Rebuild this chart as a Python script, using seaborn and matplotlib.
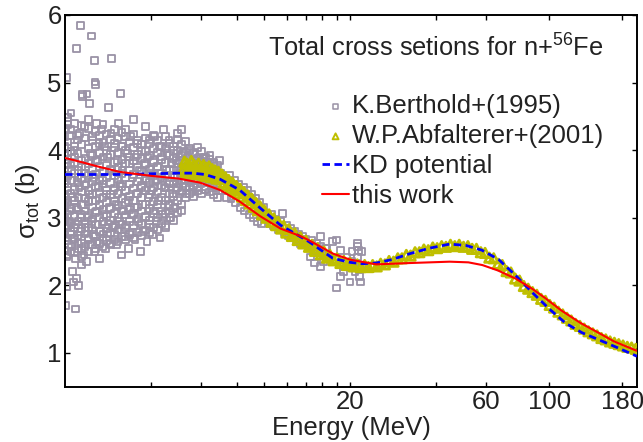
import matplotlib
matplotlib.use('Agg')
import matplotlib.pyplot as plt
from matplotlib.ticker import NullLocator
import pandas as pd
import seaborn as sns

# ---- K.Berthold+(1995) data: scattered points ----
berthold_E = [
    2.01, 2.02, 2.03, 2.01, 2.02, 2.00, 2.01, 2.03, 2.02, 2.00, 2.01, 2.04, 2.02, 2.05, 2.06, 2.07, 2.05, 2.08, 2.09, 2.08,
    2.10, 2.10, 2.11, 2.12, 2.13, 2.14, 2.15, 2.15, 2.16, 2.17, 2.17, 2.18, 2.19, 2.19, 2.20, 2.21, 2.22, 2.22, 2.23, 2.24,
    2.25, 2.26, 2.26, 2.27, 2.28, 2.29, 2.30, 2.29,
    2.31, 2.32, 2.33, 2.34, 2.35, 2.36, 2.37, 2.38, 2.39, 2.40, 2.41, 2.42, 2.43, 2.44, 2.45, 2.46, 2.47, 2.48, 2.49, 2.50,
    2.51, 2.52, 2.53, 2.54, 2.55, 2.56, 2.57, 2.58, 2.59, 2.60, 2.61, 2.62, 2.63, 2.64, 2.65, 2.66, 2.68, 2.70, 2.72, 2.74,
    2.76, 2.78, 2.80, 2.82, 2.84, 2.85, 2.86, 2.88, 2.90, 2.91, 2.92, 2.94, 2.96, 2.98, 2.99,
    3.02, 3.04, 3.06, 3.08, 3.10, 3.12, 3.14, 3.15, 3.17, 3.19, 3.21, 3.23, 3.25, 3.27, 3.29, 3.31, 3.33, 3.35, 3.37, 3.40,
    3.42, 3.44, 3.46, 3.48, 3.50, 3.52, 3.55, 3.57, 3.60, 3.62, 3.64, 3.67, 3.70, 3.72, 3.74, 3.77, 3.80, 3.82, 3.84, 3.86,
    3.88, 3.90, 3.92, 3.95, 3.97, 3.99,
    4.02, 4.05, 4.08, 4.10, 4.13, 4.16, 4.19, 4.22, 4.25, 4.28, 4.31, 4.34, 4.37, 4.40, 4.43, 4.46, 4.50, 4.53, 4.56, 4.60,
    4.63, 4.66, 4.70, 4.73, 4.76, 4.80, 4.83, 4.86, 4.90, 4.93, 4.96, 4.99,
    5.02, 5.05, 5.08, 5.12, 5.12, 5.15, 5.18, 5.22, 5.26, 5.30, 5.33, 5.37, 5.41, 5.45, 5.49, 5.53, 5.57, 5.61, 5.65, 5.70,
    5.74, 5.78, 5.83, 5.88, 5.93, 5.98, 6.03, 6.08, 6.14, 6.20, 6.26, 6.32, 6.38, 6.45, 6.52, 6.59, 6.66, 6.74, 6.82, 6.90,
    6.97,
    7.05, 7.15, 7.25, 7.35, 7.45, 7.55, 7.65, 7.75, 7.85, 7.95, 8.05, 8.15, 8.25, 8.35, 8.45, 8.55, 8.65, 8.75, 8.85, 8.95,
    9.05, 9.15, 9.25, 9.35, 9.45, 9.55, 9.65, 9.75, 9.85, 9.95,
    10.2, 10.4, 10.6, 10.8, 11.0, 11.2, 11.4, 11.6, 11.8, 12.0, 12.2, 12.4, 12.6, 12.8, 13.0, 13.2, 13.4, 13.6, 13.8, 14.0,
    14.3, 14.6, 14.9, 15.2, 15.5, 15.8, 16.1, 16.4, 16.7,
    15.7, 17.4, 17.9, 21.2, 21.4, 20.3, 17.9, 18.5, 20.0, 21.7, 21.6, 20.8, 18.9, 17.0, 16.1, 14.5, 15.0, 21.3, 21.9, 19.5,
    18.5, 16.6, 20.3, 21.2, 15.7, 19.0, 22.0, 20.6,
]
berthold_sigma = [
    1.70, 1.98, 2.42, 2.70, 2.85, 3.00, 3.25, 3.55, 3.80, 4.05, 4.30, 4.42, 5.07, 3.40, 2.60, 2.95, 4.48, 3.10, 2.75, 4.22,
    4.55, 2.50, 3.70, 2.20, 3.30, 2.05, 2.68, 4.00, 3.90, 1.65, 2.90, 2.40, 5.50, 3.15, 2.10, 4.15, 2.62, 3.60, 2.00, 3.45,
    4.25, 5.85, 2.80, 3.05, 2.30, 3.85, 4.80, 2.55,
    4.82, 3.20, 2.45, 4.35, 2.85, 3.75, 3.50, 2.35, 4.83, 3.00, 2.70, 4.45, 4.69, 3.35, 2.60, 3.95, 5.69, 2.95, 4.20, 3.25,
    2.75, 3.60, 5.33, 2.50, 5.01, 4.97, 3.10, 4.40, 2.65, 3.85, 2.90, 3.45, 4.10, 2.40, 3.20, 2.80, 4.30, 3.55, 2.70, 3.05,
    4.05, 2.55, 3.35, 3.90, 2.90, 4.63, 3.15, 2.62, 4.25, 5.36, 3.70, 2.85, 3.40, 2.75, 4.10,
    3.20, 2.60, 3.85, 4.40, 2.95, 3.50, 4.84, 2.45, 3.70, 4.05, 3.10, 2.72, 4.30, 3.40, 2.88, 3.95, 3.25, 2.55, 3.80, 4.20,
    3.05, 2.78, 3.60, 4.45, 3.15, 2.68, 3.90, 3.35, 4.10, 2.95, 3.70, 2.50, 3.45, 4.00, 3.20, 2.80, 3.80, 4.35, 3.00, 3.55,
    2.65, 3.90, 3.30, 4.15, 2.90, 3.65,
    3.40, 2.75, 3.85, 3.10, 4.20, 3.55, 2.95, 3.75, 3.25, 4.05, 2.70, 3.60, 3.90, 3.05, 4.30, 3.45, 2.85, 3.70, 3.95, 3.20,
    4.15, 3.50, 3.00, 3.80, 3.35, 4.00, 3.60, 3.15, 3.85, 3.45, 4.25, 3.70,
    3.50, 3.85, 3.65, 3.11, 4.31, 3.40, 3.95, 3.75, 3.55, 4.13, 3.35, 3.90, 3.70, 3.45, 4.00, 3.60, 3.80, 3.38, 3.95, 3.55,
    3.72, 3.85, 3.45, 3.65, 3.90, 3.50, 3.78, 3.60, 3.88, 3.42, 3.70, 3.82, 3.55, 3.92, 3.65, 3.48, 3.80, 3.60, 3.72, 3.40,
    3.85,
    3.65, 3.40, 3.58, 3.30, 3.50, 3.62, 3.28, 3.45, 3.55, 3.22, 3.40, 3.50, 3.15, 3.35, 3.45, 3.10, 3.30, 3.40, 3.05, 3.25,
    3.35, 3.00, 3.20, 3.28, 2.95, 3.12, 3.22, 2.92, 3.05, 3.15,
    3.02, 2.92, 3.05, 2.88, 2.98, 2.82, 2.95, 3.06, 2.78, 2.88, 2.74, 2.84, 2.70, 2.80, 2.66, 2.76, 2.62, 2.72, 2.60, 2.68,
    2.56, 2.66, 2.52, 2.62, 2.48, 2.58, 2.45, 2.55, 2.42,
    2.72, 2.65, 2.67, 2.57, 2.52, 2.50, 1.96, 2.13, 2.05, 2.05, 2.13, 2.20, 2.28, 2.42, 2.35, 2.42, 2.33, 2.42, 2.28, 2.42,
    2.52, 2.55, 2.35, 2.62, 2.28, 2.20, 2.50, 2.30,
]

# ---- K.Berthold+(1995): dense low-energy columns ----
berthold_col_E = [2.00, 2.05, 2.10, 2.16, 2.22, 2.28, 2.35, 2.42, 2.49, 2.56, 2.64, 2.72, 2.80, 2.89, 2.98, 3.07, 3.17,
                  3.27, 3.37, 3.48, 3.59, 3.71, 3.83, 3.95, 4.08, 4.21, 4.35, 4.49, 4.64, 4.79, 4.95, 5.11, 5.28, 5.46,
                  5.64, 5.83, 6.02, 6.22, 6.43, 6.65, 6.87]
berthold_col_sigma = [
    [2.52, 2.78, 2.98, 3.18, 3.32, 3.50, 3.68, 3.92, 4.20],
    [2.45, 2.66, 2.88, 3.05, 3.22, 3.45, 3.62, 3.86, 4.12, 4.38],
    [2.58, 2.80, 2.92, 3.14, 3.36, 3.55, 3.78, 3.98, 4.30],
    [2.48, 2.70, 2.86, 3.02, 3.25, 3.42, 3.65, 3.82, 4.05, 4.40],
    [2.55, 2.74, 2.95, 3.12, 3.30, 3.52, 3.70, 3.95, 4.22],
    [2.42, 2.62, 2.84, 3.00, 3.20, 3.38, 3.58, 3.76, 4.08, 4.36],
    [2.58, 2.76, 2.92, 3.10, 3.28, 3.48, 3.66, 3.88, 4.18],
    [2.50, 2.68, 2.86, 3.04, 3.24, 3.40, 3.62, 3.80, 4.02, 4.32],
    [2.60, 2.82, 2.98, 3.16, 3.34, 3.54, 3.72, 3.92, 4.14],
    [2.55, 2.72, 2.90, 3.08, 3.26, 3.46, 3.64, 3.84, 4.06, 4.28],
    [2.62, 2.80, 3.00, 3.18, 3.38, 3.56, 3.76, 3.96, 4.22],
    [2.58, 2.76, 2.94, 3.12, 3.30, 3.50, 3.68, 3.90, 4.12, 4.38],
    [2.66, 2.84, 3.02, 3.22, 3.40, 3.60, 3.78, 4.00, 4.24],
    [2.60, 2.78, 2.96, 3.14, 3.34, 3.52, 3.72, 3.94, 4.16],
    [2.68, 2.88, 3.06, 3.24, 3.44, 3.62, 3.82, 4.04, 4.30],
    [2.64, 2.82, 3.00, 3.18, 3.36, 3.56, 3.74, 3.96, 4.18],
    [2.72, 2.90, 3.10, 3.28, 3.46, 3.66, 3.86, 4.06, 4.26],
    [2.68, 2.86, 3.04, 3.22, 3.40, 3.60, 3.80, 4.00, 4.20],
    [2.75, 2.94, 3.12, 3.32, 3.50, 3.70, 3.90, 4.12],
    [2.70, 2.88, 3.06, 3.26, 3.44, 3.64, 3.84, 4.04, 4.24],
    [2.78, 2.98, 3.16, 3.36, 3.54, 3.74, 3.94, 4.14],
    [2.74, 2.92, 3.10, 3.30, 3.48, 3.68, 3.88, 4.08],
    [2.82, 3.02, 3.20, 3.40, 3.58, 3.78, 3.98, 4.18],
    [2.78, 2.96, 3.14, 3.34, 3.52, 3.72, 3.92, 4.10],
    [2.86, 3.06, 3.24, 3.44, 3.62, 3.82, 4.02, 4.22],
    [2.82, 3.00, 3.20, 3.38, 3.56, 3.76, 3.96, 4.14],
    [2.92, 3.10, 3.30, 3.48, 3.66, 3.86, 4.06],
    [2.88, 3.06, 3.26, 3.44, 3.62, 3.82, 4.02, 4.20],
    [3.00, 3.18, 3.36, 3.54, 3.72, 3.92, 4.10],
    [2.96, 3.14, 3.32, 3.50, 3.70, 3.88, 4.06],
    [3.08, 3.26, 3.44, 3.62, 3.80, 4.00, 4.16],
    [3.20, 3.38, 3.56, 3.74, 3.92, 4.08],
    [3.30, 3.46, 3.62, 3.80, 3.96],
    [3.36, 3.52, 3.68, 3.84, 4.02],
    [3.32, 3.48, 3.64, 3.80, 3.96],
    [3.40, 3.56, 3.72, 3.88, 4.04],
    [3.36, 3.52, 3.68, 3.84, 3.98],
    [3.42, 3.58, 3.74, 3.90],
    [3.38, 3.54, 3.70, 3.86],
    [3.34, 3.50, 3.66, 3.82],
    [3.30, 3.46, 3.62, 3.78],
]

# ---- W.P.Abfalterer+(2001) data ----
abf_E = [
    5.20, 5.25, 5.30, 5.35, 5.40, 5.45, 5.50, 5.55, 5.60, 5.65, 5.70, 5.76, 5.82, 5.88, 5.94, 6.00, 6.06, 6.12, 6.18, 6.25,
    6.32, 6.40, 6.48, 6.56, 6.64, 6.72, 6.80, 6.90, 7.00, 7.10, 7.20, 7.30, 7.40, 7.50, 7.62, 7.74, 7.86, 7.98, 8.10, 8.22,
    8.35, 8.48, 8.62, 8.76, 8.90, 9.05, 9.20, 9.35, 9.50, 9.66, 9.82, 10.0, 10.2, 10.4, 10.6, 10.8, 11.0, 11.2, 11.45, 11.7,
    11.95, 12.2, 12.5, 12.8, 13.1, 13.4, 13.7, 14.0, 14.35, 14.7, 15.05, 15.4, 15.8, 16.2, 16.6, 17.0, 17.5, 18.0, 18.5, 19.0,
    19.5, 20.0, 20.6, 21.2, 21.8, 22.5, 23.2, 24.0, 24.8, 25.6, 26.5, 27.4, 28.4, 29.4, 30.4, 31.5, 32.6, 33.8, 35.0, 36.3,
    37.6, 39.0, 40.4, 41.9, 43.4, 45.0, 46.6, 48.3, 50.0, 51.8, 53.6, 55.5, 57.5, 59.5, 61.6, 63.8, 66.0, 68.4, 70.8, 73.3,
    75.9, 78.6, 81.4, 84.3, 87.3, 90.4, 93.6, 96.9, 100.3, 103.9, 107.6, 111.4, 115.3, 119.4, 123.6, 128.0, 132.5, 137.2,
    142.1, 147.1, 152.3, 157.7, 163.3, 169.1, 175.1, 181.3, 187.7, 194.3, 201.0,
]
abf_sigma = [
    3.72, 3.83, 3.68, 3.80, 3.66, 3.78, 3.70, 3.84, 3.67, 3.79, 3.65, 3.76, 3.68, 3.80, 3.64, 3.75, 3.66, 3.78, 3.62, 3.74,
    3.64, 3.76, 3.60, 3.72, 3.62, 3.70, 3.58, 3.68, 3.57, 3.64, 3.52, 3.60, 3.48, 3.56, 3.44, 3.52, 3.40, 3.47, 3.36, 3.43,
    3.31, 3.38, 3.26, 3.33, 3.21, 3.28, 3.16, 3.22, 3.11, 3.17, 3.05, 3.11, 3.00, 3.05, 2.94, 2.99, 2.89, 2.94, 2.84, 2.88,
    2.78, 2.83, 2.73, 2.77, 2.67, 2.71, 2.62, 2.66, 2.57, 2.60, 2.51, 2.55, 2.46, 2.50, 2.41, 2.45, 2.37, 2.40, 2.33, 2.36,
    2.30, 2.33, 2.28, 2.31, 2.27, 2.30, 2.27, 2.30, 2.28, 2.32, 2.31, 2.36, 2.35, 2.40, 2.40, 2.45, 2.44, 2.49, 2.49, 2.53,
    2.52, 2.56, 2.55, 2.58, 2.57, 2.60, 2.58, 2.60, 2.57, 2.58, 2.54, 2.54, 2.49, 2.48, 2.41, 2.40, 2.32, 2.30, 2.21, 2.19,
    2.10, 2.07, 1.99, 1.95, 1.90, 1.86, 1.80, 1.77, 1.71, 1.67, 1.61, 1.57, 1.52, 1.48, 1.43, 1.40, 1.36, 1.32,
    1.29, 1.26, 1.22, 1.20, 1.17, 1.15, 1.13, 1.11, 1.09, 1.08, 1.06,
]

# ---- KD potential curve ----
kd_E = [2.0, 2.5, 3.0, 4.0, 5.0, 5.6, 6.2, 7.0, 8.2, 9.7, 11.4, 14.3, 17.4, 20.0, 22.0, 24.7, 28.0, 32.5, 38.0,
        44.7, 51.0, 58.0, 66.5, 76.0, 87.8, 100.0, 114.0, 130.0, 150.0, 175.0, 203.0]
kd_sigma = [3.64, 3.64, 3.64, 3.65, 3.66, 3.66, 3.64, 3.57, 3.41, 3.14, 2.89, 2.65, 2.40, 2.34, 2.32, 2.33, 2.38, 2.47, 2.55,
            2.61, 2.59, 2.52, 2.38, 2.15, 1.88, 1.65, 1.44, 1.30, 1.19, 1.07, 0.95]

# ---- this work curve ----
work_E = [2.0, 2.3, 2.6, 3.1, 4.0, 5.0, 5.95, 7.0, 8.2, 9.7, 11.4, 13.35, 14.3, 17.4, 20.0, 24.7, 32.5, 44.7, 52.0,
          58.2, 66.0, 76.1, 87.0, 96.8, 110.0, 129.0, 150.0, 168.6, 203.0]
work_sigma = [3.885, 3.82, 3.76, 3.68, 3.62, 3.58, 3.52, 3.41, 3.24, 3.02, 2.84, 2.73, 2.67, 2.47, 2.38, 2.31, 2.33, 2.35, 2.34,
              2.30, 2.22, 2.10, 1.95, 1.81, 1.63, 1.44, 1.29, 1.17, 1.03]

x_ticks = [4, 6, 8, 10, 12, 14, 16, 18, 20, 40, 60, 100, 180]
x_ticklabels = ['', '', '', '', '', '', '', '', '20', '', '60', '100', '180']
y_ticks = [1, 2, 3, 4, 5, 6]

GRAY = '#9a92a6'
YELLOW = '#bfbf00'
TEXT = '#222222'
FS = 18.5

sns.set_style('ticks')
plt.rcParams['font.family'] = ['Liberation Sans', 'DejaVu Sans']
plt.rcParams['mathtext.fontset'] = 'custom'
plt.rcParams['mathtext.rm'] = 'Liberation Sans'
plt.rcParams['mathtext.it'] = 'Liberation Sans:italic'
plt.rcParams['mathtext.default'] = 'regular'

fig = plt.figure(figsize=(6.43, 4.42), dpi=100)
ax = fig.add_axes([65 / 643, 1 - 386.7 / 442, (637 - 65) / 643, (386.7 - 15) / 442])
ax.set_xscale('log')

col_rows = [(e, s) for e, col in zip(berthold_col_E, berthold_col_sigma) for s in col]
bdf = pd.concat([
    pd.DataFrame({'E': berthold_E, 'sigma': berthold_sigma}),
    pd.DataFrame(col_rows, columns=['E', 'sigma']),
], ignore_index=True)
adf = pd.DataFrame({'E': abf_E, 'sigma': abf_sigma})
kdf = pd.DataFrame({'E': kd_E, 'sigma': kd_sigma})
wdf = pd.DataFrame({'E': work_E, 'sigma': work_sigma})

sns.scatterplot(data=bdf, x='E', y='sigma', ax=ax, marker='s', s=24, facecolor='none',
                edgecolor=GRAY, linewidth=1.3, label='K.Berthold+(1995)', zorder=2)
sns.scatterplot(data=adf, x='E', y='sigma', ax=ax, marker='^', s=46, facecolor='none',
                edgecolor=YELLOW, linewidth=2.0, label='W.P.Abfalterer+(2001)', zorder=3)
sns.lineplot(data=kdf, x='E', y='sigma', ax=ax, color='blue', linestyle=(0, (2.7, 1.6)), linewidth=2.0,
             label='KD potential', zorder=4)
sns.lineplot(data=wdf, x='E', y='sigma', ax=ax, color='red', linewidth=1.5, label='this work', zorder=5)

ax.set_xlim(2, 203)
ax.set_ylim(0.5, 6)
ax.set_xticks(x_ticks)
ax.set_xticklabels(x_ticklabels)
ax.xaxis.set_minor_locator(NullLocator())
ax.set_yticks(y_ticks)
ax.set_yticklabels([str(v) for v in y_ticks])
ax.tick_params(direction='in', top=True, right=True, length=3.6, width=1, labelsize=FS, pad=2.5,
               colors='black', labelcolor=TEXT)
for sp in ax.spines.values():
    sp.set_linewidth(1.4)
    sp.set_color('black')

ax.set_xlabel('Energy (MeV)', fontsize=FS, labelpad=1.5, color=TEXT)
ax.set_ylabel(r'σ$_{tot}$ (b)', fontsize=FS, labelpad=4, color=TEXT)

ax.text(0.355, 0.888, r'Total cross setions for n+$^{56}$Fe', transform=ax.transAxes,
        fontsize=18.3, va='baseline', ha='left', color=TEXT)

leg = ax.legend(loc='upper left', bbox_to_anchor=(0.449, 0.787), frameon=False, fontsize=FS,
                borderaxespad=0, borderpad=0, handlelength=1.07, handletextpad=0.1, labelspacing=0.23)
for t in leg.get_texts():
    t.set_color(TEXT)
hs = leg.legend_handles
hs[0].set_sizes([14])
hs[0].set_linewidths([1.1])
hs[1].set_sizes([18])
hs[1].set_linewidths([1.4])

fig.savefig('out.png', dpi=100)
